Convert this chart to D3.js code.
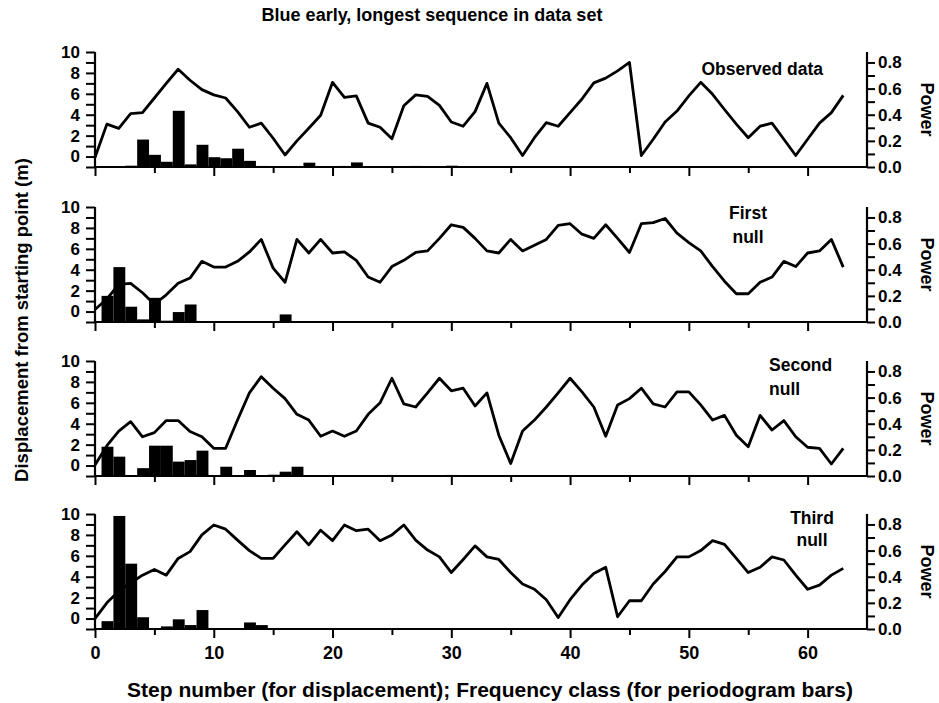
<!DOCTYPE html>
<html>
<head>
<meta charset="utf-8">
<script src="https://cdn.jsdelivr.net/npm/d3@7"></script>
<style>
  body { margin: 0; background: #fff; }
  text { font-family: "Liberation Sans", Arial, sans-serif; fill: #000; font-weight: bold; }
</style>
</head>
<body>
<svg id="chart"></svg>
<script>
// step numbers for displacement, frequency classes for the periodogram bars
const steps = d3.range(0, 64);
const classes = d3.range(1, 33);

// displacement from starting point (m), one value per step
const observedDisp = [-0.1, 3.1, 2.7, 4.1, 4.2, 5.6, 7.0, 8.35, 7.3, 6.4, 5.9, 5.6, 4.3, 2.8, 3.2, 1.75,
  0.15, 1.5, 2.7, 3.95, 7.1, 5.65, 5.8, 3.2, 2.8, 1.7, 4.85, 5.9, 5.75, 4.9, 3.3, 2.9,
  4.3, 7.0, 3.2, 1.8, 0.1, 1.8, 3.25, 2.9, 4.2, 5.5, 7.05, 7.5, 8.2, 9.0, 0.1, 1.65,
  3.3, 4.35, 5.8, 7.1, 5.95, 4.5, 3.1, 1.8, 2.9, 3.2, 1.65, 0.1, 1.65, 3.2, 4.2, 5.85];
const firstDisp = [0.2, 1.2, 2.6, 2.7, 1.8, 0.7, 1.6, 2.7, 3.2, 4.8, 4.25, 4.25, 4.8, 5.7, 6.9, 4.15,
  2.8, 6.9, 5.6, 6.9, 5.6, 5.7, 4.9, 3.3, 2.8, 4.3, 4.9, 5.65, 5.8, 7.0, 8.3, 8.05,
  7.0, 5.8, 5.6, 6.9, 5.8, 6.35, 6.9, 8.25, 8.4, 7.4, 7.0, 8.3, 7.0, 5.65, 8.4, 8.5,
  8.9, 7.5, 6.6, 5.8, 4.3, 2.9, 1.7, 1.7, 2.8, 3.3, 4.8, 4.3, 5.6, 5.8, 6.9, 4.25];
const secondDisp = [0.05, 1.9, 3.3, 4.2, 2.75, 3.15, 4.3, 4.3, 3.25, 2.75, 1.65, 1.65, 4.35, 6.95, 8.5, 7.4,
  6.4, 4.9, 4.35, 2.8, 3.3, 2.8, 3.3, 4.9, 6.0, 8.35, 5.9, 5.6, 6.95, 8.35, 7.15, 7.4,
  5.7, 6.95, 2.9, 0.2, 3.3, 4.35, 5.6, 6.95, 8.35, 7.05, 5.6, 2.8, 5.8, 6.4, 7.4, 5.9,
  5.6, 7.05, 7.05, 5.8, 4.35, 4.8, 2.9, 1.8, 4.8, 3.4, 4.3, 2.75, 1.75, 1.65, 0.15, 1.65];
const thirdDisp = [0.0, 1.5, 2.6, 3.4, 4.15, 4.7, 4.15, 5.75, 6.4, 8.0, 8.95, 8.55, 7.5, 6.5, 5.75, 5.75,
  7.05, 8.3, 7.05, 8.45, 7.45, 8.95, 8.4, 8.55, 7.45, 8.0, 8.95, 7.5, 6.55, 5.9, 4.4, 5.65,
  6.95, 5.9, 5.65, 4.4, 3.3, 2.8, 1.8, 0.1, 1.8, 3.2, 4.3, 4.9, 0.17, 1.7, 1.7, 3.3,
  4.5, 5.9, 5.9, 6.5, 7.45, 7.1, 5.75, 4.4, 4.9, 5.9, 5.6, 4.15, 2.8, 3.2, 4.15, 4.8];

// periodogram power, one value per frequency class
const observedPower = [0, 0.003, 0.01, 0.21, 0.093, 0.04, 0.43, 0.02, 0.17, 0.075, 0.067, 0.14, 0.047, 0.008, 0.004, 0.004,
  0.006, 0.033, 0.006, 0.004, 0.008, 0.035, 0.005, 0.004, 0.004, 0.006, 0.008, 0.004, 0.006, 0.01, 0.005, 0.004];
const firstPower = [0.2, 0.42, 0.117, 0.02, 0.185, 0.01, 0.076, 0.134, 0.004, 0.004, 0.004, 0.004, 0.004, 0.004, 0.004, 0.058,
  0.006, 0.004, 0.004, 0.004, 0.005, 0.004, 0.004, 0.004, 0.006, 0.004, 0.004, 0.004, 0.005, 0.004, 0.004, 0.004];
const secondPower = [0.224, 0.148, 0.004, 0.06, 0.232, 0.232, 0.11, 0.122, 0.194, 0.005, 0.071, 0.005, 0.046, 0.004, 0.01, 0.033,
  0.071, 0.004, 0.004, 0.004, 0.004, 0.004, 0.004, 0.004, 0.008, 0.004, 0.004, 0.004, 0.004, 0.008, 0.004, 0.004];
const thirdPower = [0.06, 0.865, 0.5, 0.09, 0.004, 0.02, 0.074, 0.03, 0.145, 0.005, 0.004, 0.004, 0.05, 0.03, 0.004, 0.004,
  0.004, 0.004, 0.004, 0.004, 0.004, 0.004, 0.004, 0.004, 0.004, 0.004, 0.004, 0.004, 0.004, 0.004, 0.004, 0.004];

const panelLabels = [["Observed data"], ["First", "null"], ["Second", "null"], ["Third", "null"]];

// tick values
const xTicks = d3.range(0, 61, 5);
const xTickLabels = [0, 10, 20, 30, 40, 50, 60];
const dispTicks = d3.range(-1, 11);
const dispTickLabels = [0, 2, 4, 6, 8, 10];
const powerTicks = [0, 0.1, 0.2, 0.3, 0.4, 0.5, 0.6, 0.7, 0.8];
const powerTickLabels = [0, 0.2, 0.4, 0.6, 0.8];

const chartTitle = "Blue early, longest sequence in data set";
const xTitle = "Step number (for displacement); Frequency class (for periodogram bars)";
const yTitle = "Displacement from starting point (m)";
const y2Title = "Power";

const panels = [
  { disp: observedDisp, power: observedPower, label: panelLabels[0] },
  { disp: firstDisp, power: firstPower, label: panelLabels[1] },
  { disp: secondDisp, power: secondPower, label: panelLabels[2] },
  { disp: thirdDisp, power: thirdPower, label: panelLabels[3] }
];

// layout
const width = 939, height = 703;
const left = 95, right = 867;
const panelTops = [52, 207, 361, 514];
const panelH = 115;
const labelLayout = [
  { x: 823, anchor: "end", dy: [23] },
  { x: 748, anchor: "middle", dy: [12, 36] },
  { x: 769, anchor: "start", dy: [10, 34] },
  { x: 812, anchor: "middle", dy: [10, 32] }
];

const svg = d3.select("#chart").attr("width", width).attr("height", height);

const x = d3.scaleLinear().domain([0, 65]).range([left, right]);

const line = d3.line();

panels.forEach(function (p, i) {
  const top = panelTops[i];
  const yL = d3.scaleLinear().domain([-1, 10]).range([top + panelH, top]);
  const yR = d3.scaleLinear().domain([0, 0.88]).range([top + panelH, top]);
  const g = svg.append("g");

  // periodogram bars
  g.append("g")
    .selectAll("rect")
    .data(classes)
    .enter()
    .append("rect")
    .attr("x", d => x(d - 0.45))
    .attr("width", x(1) - x(0))
    .attr("y", (d, k) => yR(p.power[k]))
    .attr("height", (d, k) => yR(0) - yR(p.power[k]))
    .attr("fill", "#000");

  // displacement line
  g.append("path")
    .attr("d", line(steps.map((s, k) => [x(s), yL(p.disp[k])])))
    .attr("fill", "none")
    .attr("stroke", "#000")
    .attr("stroke-width", 2.8)
    .attr("stroke-linejoin", "round");

  // bottom axis
  const xAxis = g.append("g")
    .attr("transform", "translate(0," + (top + panelH) + ")")
    .call(d3.axisBottom(x).tickValues(xTicks).tickSizeOuter(0)
      .tickFormat(d => (i === 3 && xTickLabels.includes(d)) ? d : ""));
  xAxis.select(".domain").attr("d", "M" + left + ",0H" + right).attr("stroke-width", 2.2);
  xAxis.selectAll(".tick line")
    .attr("y2", d => d % 10 === 0 ? 9 : 6)
    .attr("stroke-width", 2);
  xAxis.selectAll(".tick text")
    .attr("y", 17)
    .attr("font-size", 18).attr("font-weight", "bold")
    .attr("font-family", "Liberation Sans, Arial, sans-serif");

  // left axis
  const yAxis = g.append("g")
    .attr("transform", "translate(" + left + ",0)")
    .call(d3.axisLeft(yL).tickValues(dispTicks).tickSizeOuter(0)
      .tickFormat(d => dispTickLabels.includes(d) ? d : ""));
  yAxis.select(".domain").attr("d", "M0," + (top + panelH) + "V" + top).attr("stroke-width", 2.2);
  yAxis.selectAll(".tick line").attr("x2", -9).attr("stroke-width", 2);
  yAxis.selectAll(".tick text")
    .attr("x", -15)
    .attr("font-size", 17).attr("font-weight", "bold")
    .attr("font-family", "Liberation Sans, Arial, sans-serif");

  // right axis
  const y2Axis = g.append("g")
    .attr("transform", "translate(" + right + ",0)")
    .call(d3.axisRight(yR).tickValues(powerTicks).tickSizeOuter(0)
      .tickFormat(d => powerTickLabels.includes(d) ? d3.format(".1f")(d) : ""));
  y2Axis.select(".domain").attr("d", "M0," + (top + panelH) + "V" + top).attr("stroke-width", 2.2);
  y2Axis.selectAll(".tick line").attr("x2", 8).attr("stroke-width", 2);
  y2Axis.selectAll(".tick text")
    .attr("x", 11)
    .attr("font-size", 17).attr("font-weight", "bold")
    .attr("font-family", "Liberation Sans, Arial, sans-serif");

  // right title
  g.append("text")
    .attr("transform", "translate(" + 921 + "," + (top + panelH / 2) + ") rotate(90)")
    .attr("text-anchor", "middle")
    .attr("font-size", 18)
    .text(y2Title);

  // panel label
  const lay = labelLayout[i];
  p.label.forEach(function (t, j) {
    g.append("text")
      .attr("x", lay.x)
      .attr("y", top + lay.dy[j])
      .attr("text-anchor", lay.anchor)
      .attr("font-size", 17.5)
      .text(t);
  });
});

// titles
svg.append("text")
  .attr("x", 432).attr("y", 21)
  .attr("text-anchor", "middle")
  .attr("font-size", 18)
  .text(chartTitle);

svg.append("text")
  .attr("x", 490).attr("y", 697)
  .attr("text-anchor", "middle")
  .attr("font-size", 21)
  .text(xTitle);

svg.append("text")
  .attr("transform", "translate(28,320) rotate(-90)")
  .attr("text-anchor", "middle")
  .attr("font-size", 18.5)
  .text(yTitle);
</script>
</body>
</html>
